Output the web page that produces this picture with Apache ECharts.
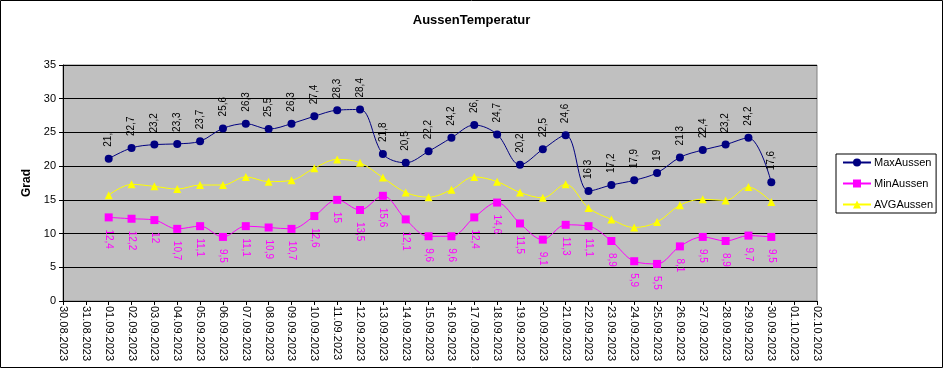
<!DOCTYPE html>
<html>
<head>
<meta charset="utf-8">
<script src="https://cdn.jsdelivr.net/npm/echarts@6/dist/echarts.min.js"></script>
<style>
html,body{margin:0;padding:0;background:#fff;}
#chart{width:943px;height:368px;}
</style>
</head>
<body>
<div id="chart"></div>
<script>
var categories = ['30.08.2023','31.08.2023','01.09.2023','02.09.2023','03.09.2023','04.09.2023','05.09.2023','06.09.2023','07.09.2023','08.09.2023','09.09.2023','10.09.2023','11.09.2023','12.09.2023','13.09.2023','14.09.2023','15.09.2023','16.09.2023','17.09.2023','18.09.2023','19.09.2023','20.09.2023','21.09.2023','22.09.2023','23.09.2023','24.09.2023','25.09.2023','26.09.2023','27.09.2023','28.09.2023','29.09.2023','30.09.2023','01.10.2023','02.10.2023'];
var maxAussen = [21.1,22.7,23.2,23.3,23.7,25.6,26.3,25.5,26.3,27.4,28.3,28.4,21.8,20.5,22.2,24.2,26.1,24.7,20.2,22.5,24.6,16.3,17.2,17.9,19,21.3,22.4,23.2,24.2,17.6];
var maxLabels = ['21,','22,7','23,2','23,3','23,7','25,6','26,3','25,5','26,3','27,4','28,3','28,4','21,8','20,5','22,2','24,2','26,','24,7','20,2','22,5','24,6','16,3','17,2','17,9','19','21,3','22,4','23,2','24,2','17,6'];
var minAussen = [12.4,12.2,12,10.7,11.1,9.5,11.1,10.9,10.7,12.6,15,13.5,15.6,12.1,9.6,9.6,12.4,14.6,11.5,9.1,11.3,11.1,8.9,5.9,5.5,8.1,9.5,8.9,9.7,9.5];
var avgAussen = [15.7,17.3,17.0,16.6,17.2,17.2,18.4,17.7,17.9,19.7,21.0,20.5,18.3,16.1,15.4,16.5,18.4,17.7,16.1,15.3,17.3,13.8,12.1,10.9,11.7,14.2,15.1,14.9,16.9,14.7];
var yTicks = [0,5,10,15,20,25,30,35];

function pad(arr){ return [null,null].concat(arr).concat([null,null]); }
function fmt(v){ return String(v).replace('.', ','); }

var chart = echarts.init(document.getElementById('chart'), null, {renderer:'canvas'});
var fontFam = '"Liberation Sans", Arial, sans-serif';
var maxData = pad(maxAussen.map(function(v,i){ return {value:v, lbl:maxLabels[i]}; }));

chart.setOption({
  animation:false,
  backgroundColor:'#ffffff',
  textStyle:{fontFamily:fontFam},
  title:{
    text:'AussenTemperatur', left:'center', top:14, padding:0,
    textStyle:{fontSize:13, fontWeight:'bold', color:'#000', fontFamily:fontFam}
  },
  graphic:[{type:'rect', shape:{x:0.5,y:0.5,width:942,height:367}, style:{fill:'none', stroke:'#000', lineWidth:1}, silent:true}],
  legend:{
    orient:'vertical', left:836, top:154,
    backgroundColor:'#fff', borderColor:'#000', borderWidth:1,
    padding:[3,3,3,6], itemGap:10, itemWidth:28, itemHeight:10,
    textStyle:{fontSize:11, color:'#000', fontFamily:fontFam, padding:[0,0,0,-2]},
    data:['MaxAussen','MinAussen','AVGAussen']
  },
  grid:{
    left:63, right:126, top:65, bottom:67, show:true,
    backgroundColor:'#c0c0c0', borderColor:'#808080', borderWidth:1
  },
  xAxis:{
    type:'category', data:categories, boundaryGap:false,
    axisLine:{lineStyle:{color:'#000', width:1}},
    axisTick:{show:true, interval:0, length:4, lineStyle:{color:'#000'}},
    axisLabel:{interval:0, rotate:-90, margin:5, fontSize:11, color:'#000', fontFamily:fontFam},
    splitLine:{show:false}
  },
  yAxis:{
    type:'value', min:yTicks[0], max:yTicks[yTicks.length-1], interval:5,
    name:'Grad', nameLocation:'middle', nameGap:28,
    nameTextStyle:{fontSize:12, fontWeight:'bold', color:'#000', fontFamily:fontFam},
    axisLine:{show:true, lineStyle:{color:'#000', width:1}},
    axisTick:{show:true, length:4, lineStyle:{color:'#000'}},
    axisLabel:{margin:7, fontSize:11, color:'#000', fontFamily:fontFam},
    splitLine:{show:true, lineStyle:{color:'#000', width:1}}
  },
  series:[
    {
      name:'MaxAussen', type:'line', data:maxData, smooth:0.35,
      symbol:'circle', symbolSize:8, connectNulls:false,
      itemStyle:{color:'#000080'}, lineStyle:{color:'#000080', width:1},
      label:{show:true, position:'top', distance:8, rotate:90, align:'left', verticalAlign:'middle',
        fontSize:10, color:'#000', fontFamily:fontFam,
        formatter:function(p){ return p.data && p.data.lbl !== undefined ? p.data.lbl : ''; }},
      z:4
    },
    {
      name:'MinAussen', type:'line', data:pad(minAussen), smooth:0.35,
      symbol:'rect', symbolSize:8,
      itemStyle:{color:'#ff00ff'}, lineStyle:{color:'#ff00ff', width:1},
      label:{show:true, position:'bottom', distance:8, rotate:-90, align:'left', verticalAlign:'middle',
        fontSize:10, color:'#ff00ff', fontFamily:fontFam,
        formatter:function(p){ return p.value == null ? '' : fmt(p.value); }},
      z:3
    },
    {
      name:'AVGAussen', type:'line', data:pad(avgAussen), smooth:0.35,
      symbol:'triangle', symbolSize:8,
      itemStyle:{color:'#ffff00'}, lineStyle:{color:'#ffff00', width:1},
      label:{show:false},
      z:2
    }
  ]
});
</script>
</body>
</html>
